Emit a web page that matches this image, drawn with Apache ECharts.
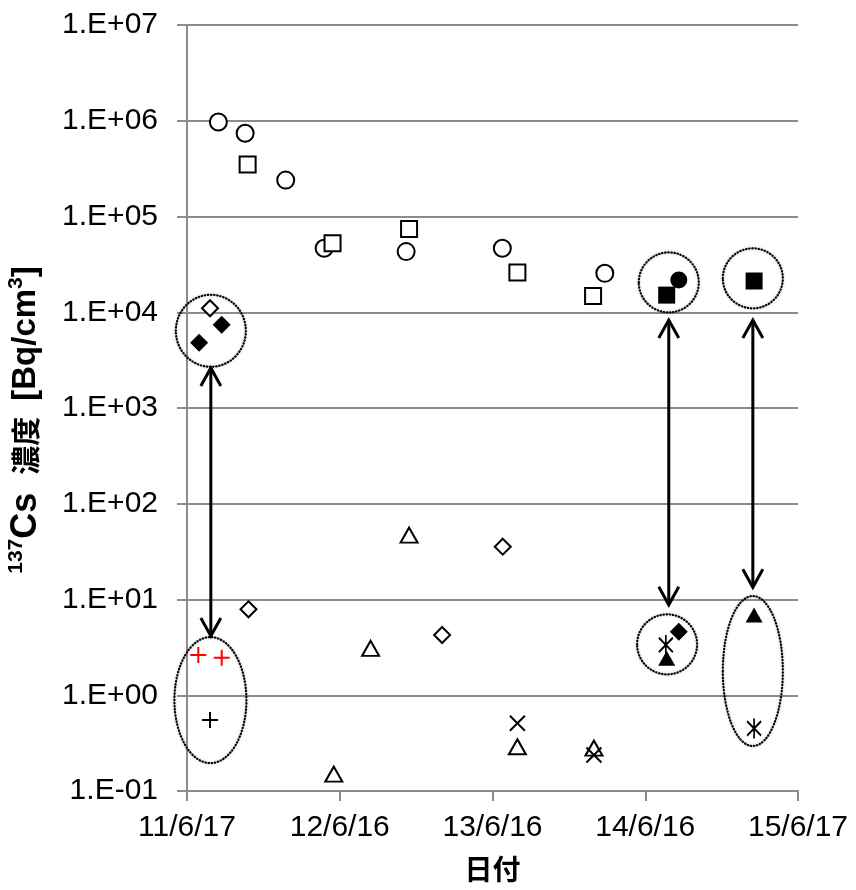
<!DOCTYPE html>
<html>
<head>
<meta charset="utf-8">
<script src="https://cdn.jsdelivr.net/npm/echarts@6/dist/echarts.min.js"></script>
<style>
  html, body { margin: 0; padding: 0; background: #fff; }
  #chart { width: 856px; height: 890px; }
</style>
</head>
<body>
<div id="chart"></div>
<script>
// ---------- data ----------
const startDate = '2011-06-17';
const xTickLabels = ['11/6/17', '12/6/16', '13/6/16', '14/6/16', '15/6/17'];
const yTickLabels = ['1.E-01', '1.E+00', '1.E+01', '1.E+02', '1.E+03', '1.E+04', '1.E+05', '1.E+06', '1.E+07'];

// open circle
const openCircle = [
  ['2011-08-31', 9.7e5], ['2011-11-03', 7.4e5], ['2012-02-08', 2.4e5],
  ['2012-05-10', 4.66e4], ['2012-11-22', 4.3e4], ['2013-07-10', 4.66e4],
  ['2014-03-12', 2.55e4]
];
// open square
const openSquare = [
  ['2011-11-09', 3.5e5], ['2012-05-30', 5.25e4], ['2012-11-29', 7.4e4],
  ['2013-08-15', 2.6e4], ['2014-02-12', 1.48e4]
];
// filled square
const filledSquare = [['2014-08-07', 1.51e4], ['2015-03-04', 2.12e4]];
// filled circle
const filledCircle = [['2014-09-05', 2.17e4]];
// open diamond
const openDiamond = [
  ['2011-08-11', 1.1e4], ['2011-11-11', 7.9], ['2013-02-16', 4.26], ['2013-07-11', 35.6]
];
// filled diamond
const filledDiamond = [['2011-07-16', 4.8e3], ['2011-09-08', 7.4e3], ['2014-09-05', 4.6]];
// open triangle
const openTriangle = [
  ['2012-06-02', 0.15], ['2012-08-29', 3.09], ['2012-11-29', 47],
  ['2013-08-15', 0.29], ['2014-02-14', 0.28]
];
// filled triangle
const filledTriangle = [['2014-08-07', 2.43], ['2015-03-04', 6.9]];
// cross (x)
const crossX = [['2013-08-15', 0.51], ['2014-02-14', 0.238]];
// asterisk
const asterisk = [['2014-08-05', 3.35], ['2015-03-04', 0.45]];
// black plus
const plusBlack = [['2011-08-11', 0.55]];
// red plus
const plusRed = [['2011-07-14', 2.63], ['2011-09-08', 2.47]];

// annotation: highlighted groups (centre date, centre value)
const groupCentres = [
  ['2011-08-13', 6.4e3], ['2011-08-12', 0.89], ['2014-08-12', 2.05e4],
  ['2015-03-01', 2.26e4], ['2014-08-08', 3.4], ['2015-03-01', 1.79]
];
// annotation: double arrows (date, upper value, lower value)
const arrows = [
  ['2011-08-13', 2.62e3, 4.16],
  ['2014-08-12', 8.3e3, 8.8],
  ['2015-03-01', 8.3e3, 13.4]
];

// ---------- helpers ----------
const DAY = 86400000;
const t0 = Date.parse(startDate);
const toDay = d => (Date.parse(d) - t0) / DAY;
const conv = arr => arr.map(p => [toDay(p[0]), p[1]]);

// ellipse radii (px) for each highlighted group
const groupRadii = [[35, 36], [36, 63], [30, 30], [30, 30], [30, 30], [30, 75]];

const FONT = "'Liberation Sans', Arial, 'Noto Sans CJK JP', sans-serif";
const CJK = "'Noto Sans CJK JP', sans-serif";
const GRID = '#8c8c8c';

const crossPath = 'path://M0,0L10,10M10,0L0,10';
const plusPath = 'path://M5,0L5,10M0,5L10,5';
const asteriskPath = 'path://M0,2L10,12M10,2L0,12M5,0L5,14';

function sc(name, data, symbol, size, style, z) {
  return {
    name, type: 'scatter', data: conv(data), symbol, symbolSize: size,
    itemStyle: Object.assign({ opacity: 1 }, style), z: z || 3, silent: true
  };
}
const openStyle = { color: '#fff', borderColor: '#000', borderWidth: 2 };
const fillStyle = { color: '#000', borderWidth: 0 };
const strokeStyle = c => ({ color: 'transparent', borderColor: c, borderWidth: 2 });

const chart = echarts.init(document.getElementById('chart'), null, { renderer: 'canvas' });

const option = {
  backgroundColor: '#fff',
  animation: false,
  textStyle: { fontFamily: FONT },
  grid: { left: 187, right: 58, top: 25, bottom: 99, containLabel: false, outerBoundsMode: 'none' },
  xAxis: {
    type: 'value', min: 0, max: 1461, interval: 365.25,
    axisLine: { show: true, lineStyle: { color: GRID, width: 2 } },
    axisTick: { show: true, length: 10, lineStyle: { color: GRID, width: 2 } },
    splitLine: { show: false },
    axisLabel: {
      color: '#000', fontSize: 30, fontFamily: FONT, margin: 22,
      formatter: v => xTickLabels[Math.round(v / 365.25)] || ''
    },
    name: '日付', nameLocation: 'middle', nameGap: 67,
    nameTextStyle: { color: '#000', fontSize: 28, fontWeight: 'bold', fontFamily: FONT }
  },
  yAxis: {
    type: 'log', logBase: 10, min: 0.1, max: 1e7,
    axisLine: { show: true, lineStyle: { color: GRID, width: 2 } },
    axisTick: { show: true, length: 10, lineStyle: { color: GRID, width: 2 } },
    splitLine: { show: true, lineStyle: { color: GRID, width: 2 } },
    axisLabel: {
      color: '#000', fontSize: 30, fontFamily: FONT, margin: 29,
      formatter: v => yTickLabels[Math.round(Math.log10(v)) + 1] || ''
    },
    name: '{sup|137}{cs|Cs}{j|濃度}{b|[Bq/cm}{sup|3}{b|]}',
    nameLocation: 'middle', nameGap: 141, nameRotate: 90,
    nameTextStyle: {
      color: '#000', fontFamily: FONT, padding: [0, 24, 0, 0],
      rich: {
        cs: { fontSize: 36, fontWeight: 'bold', fontFamily: FONT, color: '#000', lineHeight: 40, padding: [0, 18, 0, 0] },
        j: { fontSize: 29, fontWeight: 'bold', fontFamily: CJK, color: '#000', lineHeight: 40, padding: [0, 16, 0, 0] },
        b: { fontSize: 33, fontWeight: 'bold', fontFamily: FONT, color: '#000', lineHeight: 40 },
        sup: { fontSize: 21, fontWeight: 'bold', fontFamily: FONT, color: '#000', lineHeight: 22, verticalAlign: 'top' }
      }
    }
  },
  series: [
    {
      name: 'groups', type: 'custom', clip: false, silent: true, z: 2,
      data: conv(groupCentres),
      renderItem: (params, api) => {
        const p = api.coord([api.value(0), api.value(1)]);
        const r = groupRadii[params.dataIndex];
        return {
          type: 'ellipse',
          shape: { cx: p[0], cy: p[1], rx: r[0], ry: r[1] },
          style: { fill: 'none', stroke: '#000', lineWidth: 2.2, lineDash: [0.5, 2.6], lineCap: 'round',
                   shadowBlur: 3, shadowColor: 'rgba(0,0,0,0.25)' }
        };
      }
    },
    {
      name: 'arrows', type: 'custom', clip: false, silent: true, z: 2,
      data: arrows.map(a => [toDay(a[0]), a[1], a[2]]),
      encode: { x: 0, y: [1, 2] },
      renderItem: (params, api) => {
        const top = api.coord([api.value(0), api.value(1)]);
        const bot = api.coord([api.value(0), api.value(2)]);
        const hw = 10, hl = 18;
        const st = { stroke: '#000', lineWidth: 3, fill: 'none', lineJoin: 'miter' };
        return {
          type: 'group',
          children: [
            { type: 'line', shape: { x1: top[0], y1: top[1] + 1, x2: bot[0], y2: bot[1] - 1 }, style: st },
            { type: 'polyline', shape: { points: [[top[0] - hw, top[1] + hl], [top[0], top[1]], [top[0] + hw, top[1] + hl]] }, style: st },
            { type: 'polyline', shape: { points: [[bot[0] - hw, bot[1] - hl], [bot[0], bot[1]], [bot[0] + hw, bot[1] - hl]] }, style: st }
          ]
        };
      }
    },
    sc('open circle', openCircle, 'circle', 17, openStyle),
    sc('open square', openSquare, 'rect', 16, openStyle),
    sc('filled circle', filledCircle, 'circle', 17, fillStyle),
    sc('filled square', filledSquare, 'rect', 17, fillStyle),
    sc('open diamond', openDiamond, 'diamond', [16, 16], openStyle),
    sc('filled diamond', filledDiamond, 'diamond', [18, 18], fillStyle),
    sc('open triangle', openTriangle, 'triangle', [17, 15], openStyle),
    sc('filled triangle', filledTriangle, 'triangle', [17, 15], fillStyle),
    sc('cross', crossX, crossPath, 15, strokeStyle('#000'), 4),
    sc('asterisk', asterisk, asteriskPath, [14, 20], strokeStyle('#000'), 4),
    sc('plus', plusBlack, plusPath, 16, strokeStyle('#000'), 4),
    sc('plus red', plusRed, plusPath, 16, strokeStyle('#ff0000'), 4)
  ]
};
chart.setOption(option);
</script>
</body>
</html>
